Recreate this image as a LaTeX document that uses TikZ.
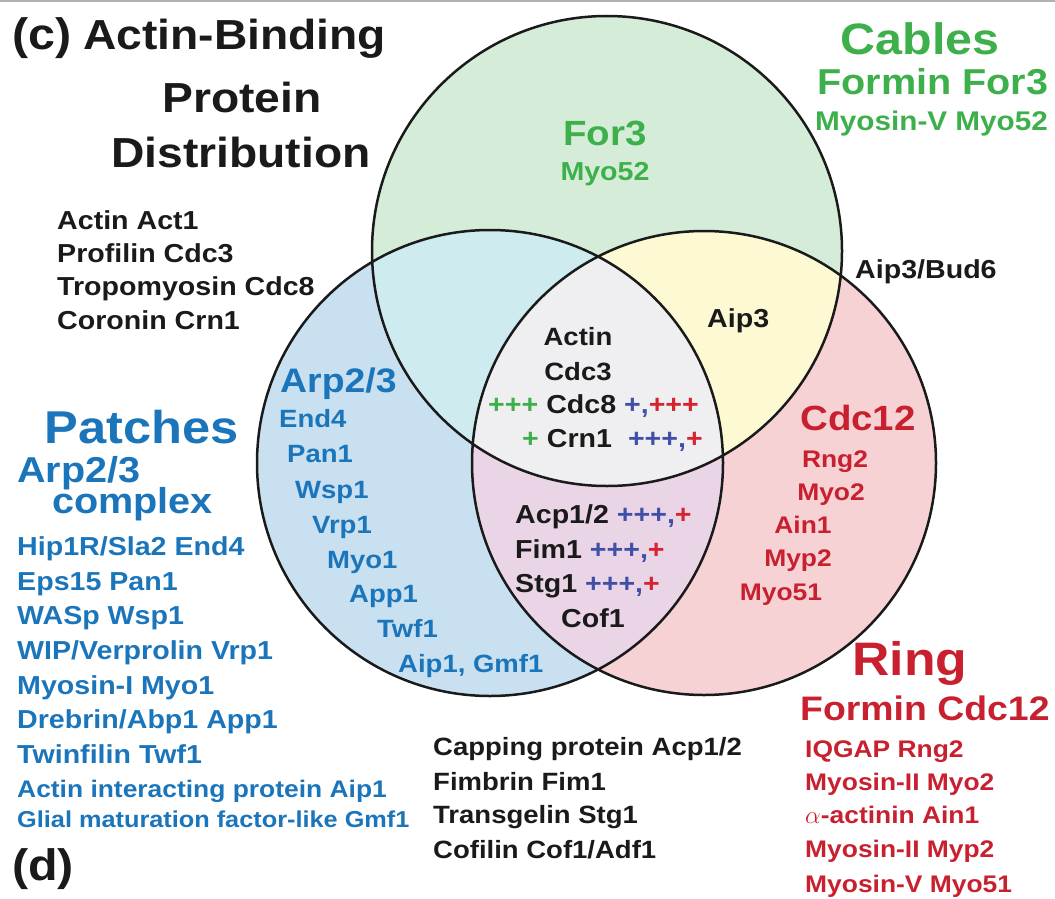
\documentclass[tikz,border=0pt]{standalone}
\usepackage{fontspec}
\setmainfont{Liberation Sans}[FakeStretch=1.1]
\definecolor{tgreen}{RGB}{61,176,75}
\definecolor{tblue}{RGB}{27,117,187}
\definecolor{tred}{RGB}{200,32,46}
\definecolor{tblack}{RGB}{26,26,26}
\definecolor{pblue}{RGB}{64,80,168}
\definecolor{pred}{RGB}{214,35,48}
\definecolor{fgreen}{RGB}{213,236,217}
\definecolor{fblue}{RGB}{201,224,240}
\definecolor{fred}{RGB}{246,210,213}
\definecolor{fgb}{RGB}{206,236,240}
\definecolor{fgr}{RGB}{253,249,210}
\definecolor{fbr}{RGB}{234,213,230}
\definecolor{fall}{RGB}{239,239,241}
\newcommand{\fsz}[1]{\fontsize{#1}{#1}\selectfont}
\newcommand{\pg}[1]{{\color{tgreen}#1}}
\newcommand{\pb}[1]{{\color{pblue}#1}}
\newcommand{\pr}[1]{{\color{pred}#1}}
\begin{document}
\begin{tikzpicture}[x=1pt, y=-1pt, line join=round, line cap=round,
  lw/.style={inner sep=0pt, anchor=base west, font=\bfseries\fsz{#1}},
  lc/.style={inner sep=0pt, anchor=base, font=\bfseries\fsz{#1}}]
	\def\gcirc{(607,251) circle (235pt)}
	\def\bcirc{(490,463) circle (233pt)}
	\def\rcirc{(704,463) circle (232pt)}
	\useasboundingbox (0,0) rectangle (1055,899);
	\draw[gray!60, line width=2pt] (0,1) -- (1055,1);
	% circles and overlaps
	\fill[fgreen] \gcirc;
	\fill[fblue] \bcirc;
	\fill[fred] \rcirc;
	\begin{scope}
		\clip \gcirc;
		\fill[fgb] \bcirc;
		\fill[fgr] \rcirc;
	\end{scope}
	\begin{scope}
		\clip \bcirc;
		\fill[fbr] \rcirc;
	\end{scope}
	\begin{scope}
		\clip \gcirc; \clip \bcirc;
		\fill[fall] \rcirc;
	\end{scope}
	\draw[line width=2.5pt, tblack] \gcirc \bcirc \rcirc;
	% title
	\node[lw=44, text=tblack] (c) at (12,50) {(c)};
	\node[lw=42, text=tblack] (title1) at (83,50) {Actin-Binding};
	\node[lc=42, text=tblack] (title2) at (242,112) {Protein};
	\node[lc=42, text=tblack] (title3) at (241,167) {Distribution};
	\node[lw=44, text=tblack] (d) at (12,880) {(d)};
	% shared proteins
	\node[lw=26, text=tblack] (act1) at (57,229) {Actin Act1};
	\node[lw=26, text=tblack] (cdc3) at (57,262) {Profilin Cdc3};
	\node[lw=26, text=tblack] (cdc8) at (57,295) {Tropomyosin Cdc8};
	\node[lw=26, text=tblack] (crn1) at (57,329) {Coronin Crn1};
	% cables
	\node[lc=44, text=tgreen] (cables) at (920,55) {Cables};
	\node[lw=36, text=tgreen] (for3) at (817,94) {Formin For3};
	\node[lw=27, text=tgreen] (myo52) at (815,130) {Myosin-V Myo52};
	\node[lc=35, text=tgreen] (infor3) at (605,145) {For3};
	\node[lc=26, text=tgreen] (inmyo52) at (605,180) {Myo52};
	\node[lw=26, text=tblack] (bud6) at (855,278) {Aip3/Bud6};
	\node[lw=26, text=tblack] (inaip3) at (707,327) {Aip3};
	% center
	\node[lc=25, text=tblack] (cactin) at (578,345) {Actin};
	\node[lc=25, text=tblack] (ccdc3) at (578,380) {Cdc3};
	\node[lw=26, text=tblack] (ccdc8) at (488,413) {\pg{+++} Cdc8 \pb{+,}\pr{+++}};
	\node[lw=26, text=tblack] (ccrn1) at (522,447) {\pg{+} Crn1\hspace{16pt}\pb{+++,}\pr{+}};
	\node[lw=26, text=tblack] (cacp) at (515,523) {Acp1/2 \pb{+++,}\pr{+}};
	\node[lw=26, text=tblack] (cfim) at (515,558) {Fim1 \pb{+++,}\pr{+}};
	\node[lw=26, text=tblack] (cstg) at (515,592) {Stg1 \pb{+++,}\pr{+}};
	\node[lc=26, text=tblack] (ccof) at (593,627) {Cof1};
	% patches
	\node[lc=46, text=tblue] (patches) at (142,443) {Patches};
	\node[lw=36, text=tblue] (arp) at (17,482) {Arp2/3};
	\node[lw=36, text=tblue] (complex) at (52,513) {complex};
	\node[lw=26, text=tblue] (end4) at (17,555) {Hip1R/Sla2 End4};
	\node[lw=26, text=tblue] (pan1) at (17,590) {Eps15 Pan1};
	\node[lw=26, text=tblue] (wsp1) at (17,624) {WASp Wsp1};
	\node[lw=26, text=tblue] (vrp1) at (17,659) {WIP/Verprolin Vrp1};
	\node[lw=26, text=tblue] (myo1) at (17,694) {Myosin-I Myo1};
	\node[lw=26, text=tblue] (app1) at (17,728) {Drebrin/Abp1 App1};
	\node[lw=26, text=tblue] (twf1) at (17,763) {Twinfilin Twf1};
	\node[lw=24, text=tblue] (aip1) at (17,797) {Actin interacting protein Aip1};
	\node[lw=23, text=tblue] (gmf1) at (17,827) {Glial maturation factor-like Gmf1};
	\node[lw=34, text=tblue] (inarp) at (280,392) {Arp2/3};
	\node[lw=25, text=tblue] (inend4) at (279,427) {End4};
	\node[lw=25, text=tblue] (inpan1) at (287,462) {Pan1};
	\node[lw=25, text=tblue] (inwsp1) at (295,498) {Wsp1};
	\node[lw=25, text=tblue] (invrp1) at (312,533) {Vrp1};
	\node[lw=25, text=tblue] (inmyo1) at (327,568) {Myo1};
	\node[lw=25, text=tblue] (inapp1) at (349,602) {App1};
	\node[lw=25, text=tblue] (intwf1) at (377,637) {Twf1};
	\node[lw=25, text=tblue] (inaip1) at (398,672) {Aip1, Gmf1};
	% ring
	\node[lc=35, text=tred] (incdc12) at (858,430) {Cdc12};
	\node[lc=24, text=tred] (inrng2) at (835,467) {Rng2};
	\node[lc=24, text=tred] (inmyo2) at (831,500) {Myo2};
	\node[lc=24, text=tred] (inain1) at (803,533) {Ain1};
	\node[lc=24, text=tred] (inmyp2) at (798,566) {Myp2};
	\node[lc=24, text=tred] (inmyo51) at (781,600) {Myo51};
	\node[lc=47, text=tred] (ring) at (910,675) {Ring};
	\node[lw=34, text=tred] (cdc12) at (800,720) {Formin Cdc12};
	\node[lw=24, text=tred] (rng2) at (805,757) {IQGAP Rng2};
	\node[lw=24, text=tred] (myo2) at (805,790) {Myosin-II Myo2};
	\node[lw=24, text=tred] (ain1) at (805,823) {$\alpha$-actinin Ain1};
	\node[lw=24, text=tred] (myp2) at (805,857) {Myosin-II Myp2};
	\node[lw=24, text=tred] (myo51) at (805,892) {Myosin-V Myo51};
	% shared patch/ring
	\node[lw=25, text=tblack] (acp) at (433,755) {Capping protein Acp1/2};
	\node[lw=25, text=tblack] (fim) at (433,790) {Fimbrin Fim1};
	\node[lw=25, text=tblack] (stg) at (433,823) {Transgelin Stg1};
	\node[lw=25, text=tblack] (cof) at (433,858) {Cofilin Cof1/Adf1};
\end{tikzpicture}
\end{document}
